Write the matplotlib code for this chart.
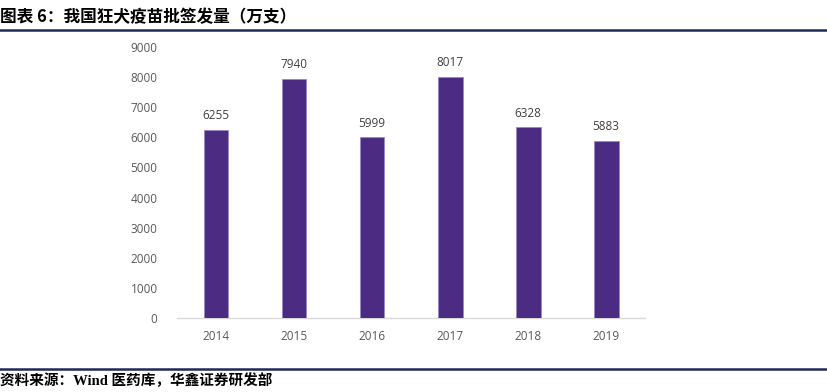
import matplotlib.pyplot as plt
from matplotlib.lines import Line2D

years = ["2014", "2015", "2016", "2017", "2018", "2019"]
batches = [6255, 7940, 5999, 8017, 6328, 5883]
yticks = [0, 1000, 2000, 3000, 4000, 5000, 6000, 7000, 8000, 9000]

bar_color = "#4b2c82"
line_color = "#1f2a55"

fig = plt.figure(figsize=(8.27, 3.92), dpi=100)
ax = fig.add_axes([0.214, 0.189, 0.566, 0.691])

x = range(len(years))
bars = ax.bar(x, batches, width=0.32, color=bar_color, edgecolor="#9a88c8",
              linewidth=0.6, zorder=3)
for xi, v in zip(x, batches):
    ax.text(xi, v + 250, str(v), ha="center", va="bottom",
            fontsize=8.5, color="#404040", family="Open Sans")

ax.set_xlim(-0.5, len(years) - 0.5)
ax.set_ylim(0, 9000)
ax.set_yticks(yticks)
ax.set_yticklabels([str(t) for t in yticks])
ax.set_xticks(list(x))
ax.set_xticklabels(years)
for lab in ax.get_xticklabels() + ax.get_yticklabels():
    lab.set_family("Open Sans")
    lab.set_fontsize(8.5)
    lab.set_color("#595959")
ax.tick_params(axis="y", length=0, pad=14)
ax.tick_params(axis="x", length=0, pad=9)
for s in ["top", "right", "left"]:
    ax.spines[s].set_visible(False)
ax.spines["bottom"].set_color("#d9d9d9")
ax.spines["bottom"].set_linewidth(1)

# header / footer
fig.text(0.0, 1 - 17 / 392, "图表 6：我国狂犬疫苗批签发量（万支）", ha="left", va="center",
         fontsize=12, fontweight="bold", family=["Noto Sans CJK SC", "DejaVu Sans"])
fig.add_artist(Line2D([0, 1], [1 - 30 / 392] * 2, color=line_color, lw=1.8,
                      transform=fig.transFigure))
fig.add_artist(Line2D([0, 1], [1 - 369 / 392] * 2, color=line_color, lw=1.8,
                      transform=fig.transFigure))
fig.text(0.0, 1 - 381 / 392, "资料来源：Wind 医药库，华鑫证券研发部", ha="left", va="center",
         fontsize=10.5, fontweight="bold",
         family=["Liberation Serif", "Noto Sans CJK SC"])

fig.savefig("out.png", dpi=100)
